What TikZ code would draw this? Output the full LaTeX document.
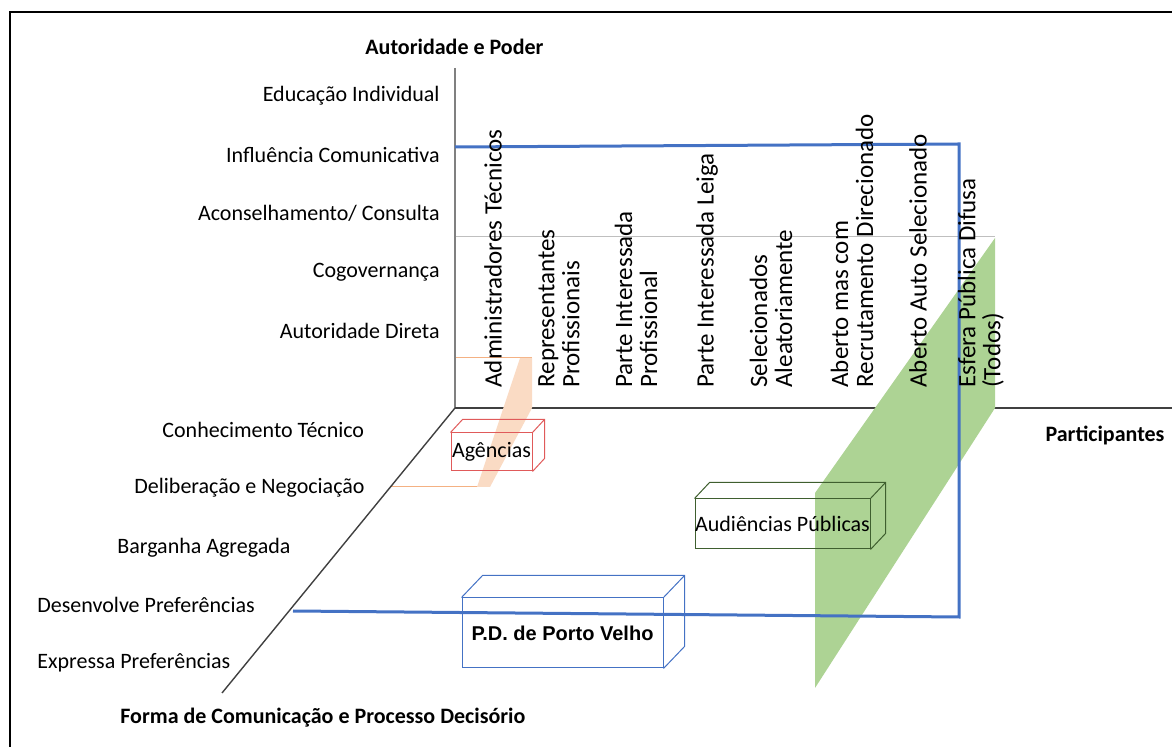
\documentclass[tikz,border=0pt]{standalone}
\usepackage{fontspec}
\setmainfont{Carlito}
\newfontfamily\arialfont{Liberation Sans}
\usepackage{tikz}
\definecolor{peach}{HTML}{FADBC4}
\definecolor{peachline}{HTML}{F4B183}
\definecolor{grn}{HTML}{ADD394}
\definecolor{blu}{HTML}{4472C4}
\definecolor{agred}{HTML}{E05A5A}
\definecolor{audgrn}{HTML}{3F5F2F}

\begin{document}
\begin{tikzpicture}[x=0.5pt, y=-0.5pt,
  lbl/.style = {anchor=east, inner sep=0, font=\fontsize{11}{13}\selectfont},
  dlbl/.style = {anchor=west, inner sep=0, font=\fontsize{11}{13}\selectfont},
  col/.style = {rotate=90, anchor=west, align=left, inner sep=0, font=\fontsize{12.5}{12.5}\selectfont},
  title/.style = {inner sep=0, font=\fontsize{11}{13}\selectfont\bfseries},
  axis/.style = {draw=black!75, line width=0.7pt},
  box/.style = {draw, line width=0.5pt, inner sep=0, font=\fontsize{11}{13}\selectfont}]
\useasboundingbox (0,0) rectangle (1172,747);
\draw[line width=0.7pt] (10,747) -- (10,12) -- (1172,12);

\coordinate (O) at (455,408);
\coordinate (vtop) at (455,68);
\coordinate (hend) at (1172,408);
\coordinate (dend) at (222,693);

\draw[black!25, line width=0.5pt] (455,237) -- (995,237);
\draw[peachline, line width=0.5pt] (455,358) -- (532,358);
\draw[peachline, line width=0.5pt] (390,487) -- (490,487);
\draw[axis, draw=black!50] (vtop) -- (O);
\draw[axis] (O) -- (hend);
\draw[axis] (O) -- (dend);

\fill[peach] (520,358) -- (532,358) -- (532,408) -- (490,487) -- (477,487) -- cycle;
\fill[grn] (995,238) -- (995,408) -- (815,688) -- (815,493) -- cycle;

\draw[blu, line width=1.5pt] (455,147) -- (959,144) -- (959,617) -- (293,611);

\node[box, draw=agred, minimum width=40.5pt, minimum height=19pt] (ag) at (491.5,452) {Agências};
\draw[agred, line width=0.5pt] (ag.north west) -- ([shift={(12,-13)}]ag.north west) -- ([shift={(12,-13)}]ag.north east) -- ([shift={(12,-13)}]ag.south east) -- (ag.south east);
\draw[agred, line width=0.5pt] (ag.north east) -- ([shift={(12,-13)}]ag.north east);

\node[box, draw=audgrn, minimum width=87.5pt, minimum height=25pt] (aud) at (782.5,524) {Audiências Públicas};
\draw[audgrn, line width=0.5pt] (aud.north west) -- ([shift={(15,-16)}]aud.north west) -- ([shift={(15,-16)}]aud.north east) -- ([shift={(15,-16)}]aud.south east) -- (aud.south east);
\draw[audgrn, line width=0.5pt] (aud.north east) -- ([shift={(15,-16)}]aud.north east);

\node[box, draw=blu, minimum width=100.5pt, minimum height=35pt, font=\arialfont\bfseries\fontsize{10}{12}\selectfont] (pd) at (562.5,633) {P.D. de Porto Velho};
\draw[blu, line width=0.5pt] (pd.north west) -- ([shift={(21,-22)}]pd.north west) -- ([shift={(21,-22)}]pd.north east) -- ([shift={(21,-22)}]pd.south east) -- (pd.south east);
\draw[blu, line width=0.5pt] (pd.north east) -- ([shift={(21,-22)}]pd.north east);

\node[title, anchor=west] (power) at (365,47) {Autoridade e Poder};
\node[title] (part) at (1105,435) {Participantes};
\node[title, anchor=west] (form) at (120,718) {Forma de Comunicação e Processo Decisório};

\node[lbl] (edu) at (440,96) {Educação Individual};
\node[lbl] (infl) at (440,155) {Influência Comunicativa};
\node[lbl] (acons) at (440,213) {Aconselhamento/ Consulta};
\node[lbl] (cogov) at (440,272) {Cogovernança};
\node[lbl] (autdir) at (440,331) {Autoridade Direta};

\node[dlbl] (conhec) at (162,430) {Conhecimento Técnico};
\node[dlbl] (delib) at (134,488) {Deliberação e Negociação};
\node[dlbl] (barg) at (117,548) {Barganha Agregada};
\node[dlbl] (desenv) at (37,605) {Desenvolve Preferências};
\node[dlbl] (expr) at (37,663) {Expressa Preferências};

\node[col] (adm) at (493,388) {Administradores Técnicos};
\node[col] (repr) at (559,388) {Representantes\\Profissionais};
\node[col] (pprof) at (636,388) {Parte Interessada\\Profissional};
\node[col] (pleiga) at (707,388) {Parte Interessada Leiga};
\node[col] (selec) at (771,388) {Selecionados\\Aleatoriamente};
\node[col] (abrec) at (852,388) {Aberto mas com\\Recrutamento Direcionado};
\node[col] (abauto) at (918,388) {Aberto Auto Selecionado};
\node[col] (esfera) at (981,388) {Esfera Pública Difusa\\(Todos)};
\end{tikzpicture}
\end{document}
